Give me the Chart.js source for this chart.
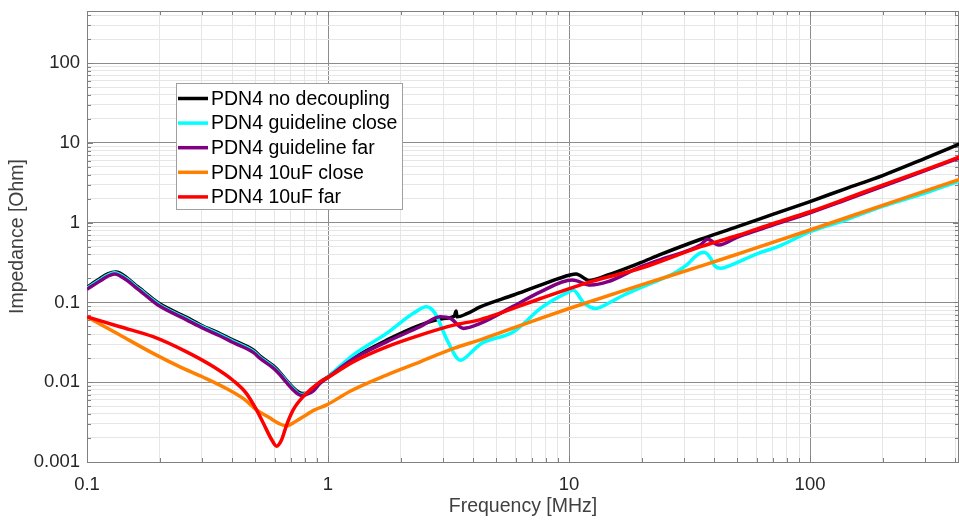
<!DOCTYPE html>
<html>
<head>
<meta charset="utf-8">
<script src="https://cdn.jsdelivr.net/npm/chart.js@4.4.0/dist/chart.umd.min.js"></script>
<style>
  html, body { margin: 0; padding: 0; background: #fff; }
  #wrap { width: 959px; height: 520px; }
</style>
</head>
<body>
<div id="wrap"><canvas id="myChart" width="959" height="520"></canvas></div>
<script>
// values (frequency in MHz, impedance in Ohm)
const seriesNames = ['PDN4 no decoupling', 'PDN4 guideline close', 'PDN4 guideline far', 'PDN4 10uF close', 'PDN4 10uF far'];

const freqNoDec = [0.1, 0.113, 0.122, 0.132, 0.146, 0.161, 0.171, 0.188, 0.2, 0.259, 0.301, 0.357, 0.404, 0.491, 0.521, 0.595, 0.631, 0.675, 0.717, 0.75, 0.785, 0.83, 0.87, 0.926, 1.0, 1.27, 1.75, 2.41, 3.06, 3.34, 3.40, 3.43, 3.77, 4.28, 5.89, 7.61, 10.1, 10.7, 12.1, 14.5, 19.8, 24, 35.2, 50, 70, 100, 140, 200, 300, 420];
const zNoDec = [0.155, 0.198, 0.228, 0.240, 0.205, 0.160, 0.139, 0.110, 0.096, 0.065, 0.051, 0.0405, 0.0337, 0.0252, 0.0214, 0.0159, 0.0133, 0.0104, 0.0085, 0.0076, 0.0072, 0.0074, 0.0080, 0.0098, 0.0117, 0.0199, 0.0337, 0.052, 0.0633, 0.067, 0.078, 0.066, 0.0723, 0.088, 0.124, 0.165, 0.221, 0.227, 0.189, 0.221, 0.315, 0.40, 0.62, 0.89, 1.27, 1.84, 2.66, 3.9, 6.4, 9.8];

const freqGuideClose = [0.1, 0.113, 0.122, 0.13, 0.146, 0.161, 0.171, 0.188, 0.2, 0.259, 0.301, 0.357, 0.404, 0.491, 0.521, 0.595, 0.631, 0.675, 0.717, 0.75, 0.778, 0.82, 0.869, 0.926, 1.0, 1.27, 1.75, 2.26, 2.56, 2.78, 3.12, 3.54, 4.02, 4.28, 5.89, 7.61, 8.5, 9.98, 10.4, 11.5, 12.9, 14.5, 16.9, 21, 27.3, 31, 33.2, 35, 36.4, 38.7, 40, 42.7, 47, 53.3, 62, 73.5, 100, 140, 200, 300, 420];
const zGuideClose = [0.151, 0.191, 0.220, 0.236, 0.198, 0.155, 0.135, 0.107, 0.093, 0.0626, 0.0497, 0.0393, 0.0326, 0.0243, 0.0207, 0.0154, 0.0129, 0.0101, 0.0083, 0.0073, 0.0070, 0.0073, 0.0080, 0.0098, 0.0117, 0.0219, 0.041, 0.073, 0.088, 0.073, 0.0337, 0.0189, 0.0253, 0.030, 0.043, 0.084, 0.105, 0.136, 0.143, 0.0995, 0.084, 0.097, 0.124, 0.165, 0.232, 0.30, 0.37, 0.415, 0.425, 0.357, 0.294, 0.268, 0.294, 0.347, 0.42, 0.50, 0.77, 1.08, 1.6, 2.35, 3.35];

const freqGuideFar = [0.1, 0.113, 0.122, 0.13, 0.146, 0.161, 0.171, 0.188, 0.2, 0.259, 0.301, 0.357, 0.404, 0.491, 0.521, 0.595, 0.631, 0.675, 0.717, 0.75, 0.778, 0.82, 0.869, 0.926, 1.0, 1.27, 1.75, 2.41, 2.92, 3.22, 3.65, 4.28, 5.89, 7.61, 10.3, 12.3, 14.5, 19.8, 24, 35.2, 37.6, 41.8, 50, 70, 100, 140, 200, 300, 420];
const zGuideFar = [0.146, 0.185, 0.213, 0.228, 0.191, 0.150, 0.130, 0.103, 0.090, 0.0605, 0.048, 0.038, 0.0315, 0.0235, 0.0200, 0.0149, 0.0125, 0.0098, 0.0080, 0.0071, 0.0068, 0.0071, 0.0078, 0.0097, 0.0115, 0.0195, 0.0321, 0.0496, 0.066, 0.063, 0.0473, 0.0547, 0.09, 0.136, 0.191, 0.165, 0.182, 0.28, 0.345, 0.53, 0.62, 0.525, 0.66, 0.93, 1.33, 1.92, 2.85, 4.5, 6.55];

const freq10uClose = [0.1, 0.137, 0.188, 0.243, 0.301, 0.38, 0.45, 0.505, 0.57, 0.631, 0.673, 0.73, 0.789, 0.88, 0.988, 1.235, 1.75, 2.41, 3.32, 4.28, 7.61, 10, 19.8, 35.2, 53.3, 100, 232, 420];
const z10uClose = [0.066, 0.039, 0.023, 0.0156, 0.0117, 0.0083, 0.0061, 0.0045, 0.0036, 0.0030, 0.00283, 0.0032, 0.0037, 0.0045, 0.0052, 0.0077, 0.0123, 0.018, 0.0265, 0.034, 0.0633, 0.084, 0.165, 0.285, 0.43, 0.81, 1.92, 3.5];

const freq10uFar = [0.1, 0.137, 0.188, 0.259, 0.335, 0.404, 0.459, 0.505, 0.538, 0.584, 0.612, 0.642, 0.673, 0.717, 0.789, 0.926, 1.0, 1.27, 1.75, 2.41, 3.32, 4.28, 7.61, 10.1, 12.3, 19.8, 24.8, 35.2, 50, 70, 100, 140, 200, 300, 420];
const z10uFar = [0.066, 0.0496, 0.0372, 0.024, 0.0156, 0.0105, 0.0072, 0.0045, 0.0031, 0.0019, 0.00158, 0.0019, 0.0029, 0.0045, 0.0066, 0.0101, 0.0115, 0.018, 0.0278, 0.039, 0.052, 0.061, 0.112, 0.150, 0.182, 0.268, 0.34, 0.50, 0.69, 0.97, 1.37, 1.98, 2.96, 4.6, 6.73];

const xTickValues = [0.1, 1, 10, 100];
const xTickLabels = ['0.1', '1', '10', '100'];
const yTickValues = [0.001, 0.01, 0.1, 1, 10, 100];
const yTickLabels = ['0.001', '0.01', '0.1', '1', '10', '100'];

const lineColors = ['#000000', '#00ffff', '#800080', '#ff8000', '#ff0000'];
const FONT = "'Liberation Sans', Arial, Helvetica, sans-serif";
const majorGrid = '#8c8c8c';
const minorGrid = '#e6e6e6';
const boxColor = '#808080';

function toPoints(fs, zs) {
    return fs.map((f, i) => ({ x: f, y: zs[i] }));
}

function isDecade(v) {
    const l = Math.log10(v);
    return Math.abs(l - Math.round(l)) < 1e-6;
}

function logTicks(min, max) {
    const ticks = [];
    for (let e = Math.floor(Math.log10(min)); e <= Math.ceil(Math.log10(max)); e++) {
        for (let m = 1; m < 10; m++) {
            const v = parseFloat((m * Math.pow(10, e)).toPrecision(6));
            if (v >= min * 0.999 && v <= max * 1.001) ticks.push({ value: v });
        }
    }
    return ticks;
}

function labelFor(values, labels, v) {
    for (let i = 0; i < values.length; i++) {
        if (Math.abs(values[i] - v) / values[i] < 1e-6) return labels[i];
    }
    return '';
}

const allFreqs = [freqNoDec, freqGuideClose, freqGuideFar, freq10uClose, freq10uFar];
const allZ = [zNoDec, zGuideClose, zGuideFar, z10uClose, z10uFar];

const datasets = seriesNames.map((name, i) => ({
    label: name,
    data: toPoints(allFreqs[i], allZ[i]),
    borderColor: lineColors[i],
    backgroundColor: lineColors[i],
    borderWidth: 3.5,
    pointRadius: 0,
    fill: false,
    cubicInterpolationMode: 'monotone',
    order: seriesNames.length - i
}));

// axes box, inward tick marks and the legend
const framePlugin = {
    id: 'frame',
    beforeDatasetsDraw(chart) {
        const { ctx, chartArea: a } = chart;
        const xs = chart.scales.x, ys = chart.scales.y;
        ctx.save();
        ctx.strokeStyle = boxColor;
        ctx.lineWidth = 1;
        ctx.beginPath();
        xs.ticks.forEach(t => {
            const px = Math.round(xs.getPixelForValue(t.value)) + 0.5;
            const len = isDecade(t.value) ? 6 : 4;
            ctx.moveTo(px, a.bottom); ctx.lineTo(px, a.bottom - len);
            ctx.moveTo(px, a.top); ctx.lineTo(px, a.top + len);
        });
        ys.ticks.forEach(t => {
            const py = Math.round(ys.getPixelForValue(t.value)) + 0.5;
            const len = isDecade(t.value) ? 6 : 4;
            ctx.moveTo(a.left, py); ctx.lineTo(a.left + len, py);
            ctx.moveTo(a.right, py); ctx.lineTo(a.right - len, py);
        });
        ctx.stroke();
        ctx.strokeRect(Math.round(a.left) + 0.5, Math.round(a.top) + 0.5,
            Math.round(a.right - a.left) - 1, Math.round(a.bottom - a.top));
        ctx.restore();
    },
    afterDatasetsDraw(chart) {
        const ctx = chart.ctx;
        const bx = 176.5, by = 83.5, bw = 226, bh = 126;
        ctx.save();
        ctx.fillStyle = '#ffffff';
        ctx.fillRect(bx, by, bw, bh);
        ctx.strokeStyle = '#a0a0a0';
        ctx.lineWidth = 1;
        ctx.strokeRect(bx, by, bw, bh);
        ctx.font = '19.5px ' + FONT;
        ctx.textBaseline = 'middle';
        ctx.textAlign = 'left';
        seriesNames.forEach((name, i) => {
            const y = 98.5 + i * 24.6;
            ctx.strokeStyle = lineColors[i];
            ctx.lineWidth = 3.5;
            ctx.beginPath();
            ctx.moveTo(178, y);
            ctx.lineTo(208, y);
            ctx.stroke();
            ctx.fillStyle = '#000000';
            ctx.fillText(name, 211, y + 1);
        });
        ctx.restore();
    }
};

new Chart(document.getElementById('myChart'), {
    type: 'line',
    data: { datasets: datasets },
    options: {
        responsive: false,
        animation: false,
        events: [],
        layout: { padding: { top: 11, right: 0, bottom: 0, left: 0 } },
        plugins: {
            legend: { display: false },
            tooltip: { enabled: false }
        },
        scales: {
            x: {
                type: 'logarithmic',
                min: 0.1,
                max: 415,
                afterBuildTicks: (scale) => { scale.ticks = logTicks(0.1, 415); },
                afterFit: (scale) => {
                    scale.height = 58;
                    scale.paddingLeft = 0; scale.paddingRight = 0;
                },
                border: { display: false },
                grid: {
                    drawTicks: false,
                    lineWidth: 1,
                    color: (c) => (c.tick && isDecade(c.tick.value)) ? majorGrid : minorGrid
                },
                ticks: {
                    autoSkip: false,
                    maxRotation: 0,
                    padding: 12,
                    color: '#262626',
                    font: { family: FONT, size: 18.5 },
                    callback: (v) => labelFor(xTickValues, xTickLabels, v)
                },
                title: {
                    display: true,
                    text: 'Frequency [MHz]',
                    color: '#404040',
                    font: { family: FONT, size: 19.5 },
                    padding: { top: 0, bottom: 2 }
                }
            },
            y: {
                type: 'logarithmic',
                min: 0.001,
                max: 450,
                afterBuildTicks: (scale) => { scale.ticks = logTicks(0.001, 450); },
                afterFit: (scale) => {
                    scale.width = 87;
                    scale.paddingTop = 0; scale.paddingBottom = 0;
                },
                border: { display: false },
                grid: {
                    drawTicks: false,
                    lineWidth: 1,
                    color: (c) => (c.tick && isDecade(c.tick.value)) ? majorGrid : minorGrid
                },
                ticks: {
                    autoSkip: false,
                    padding: 7,
                    color: '#262626',
                    font: { family: FONT, size: 18.5 },
                    callback: (v) => labelFor(yTickValues, yTickLabels, v)
                },
                title: {
                    display: true,
                    text: 'Impedance [Ohm]',
                    color: '#404040',
                    font: { family: FONT, size: 19.5 },
                    padding: { top: 6, bottom: 0 }
                }
            }
        }
    },
    plugins: [framePlugin]
});
</script>
</body>
</html>
